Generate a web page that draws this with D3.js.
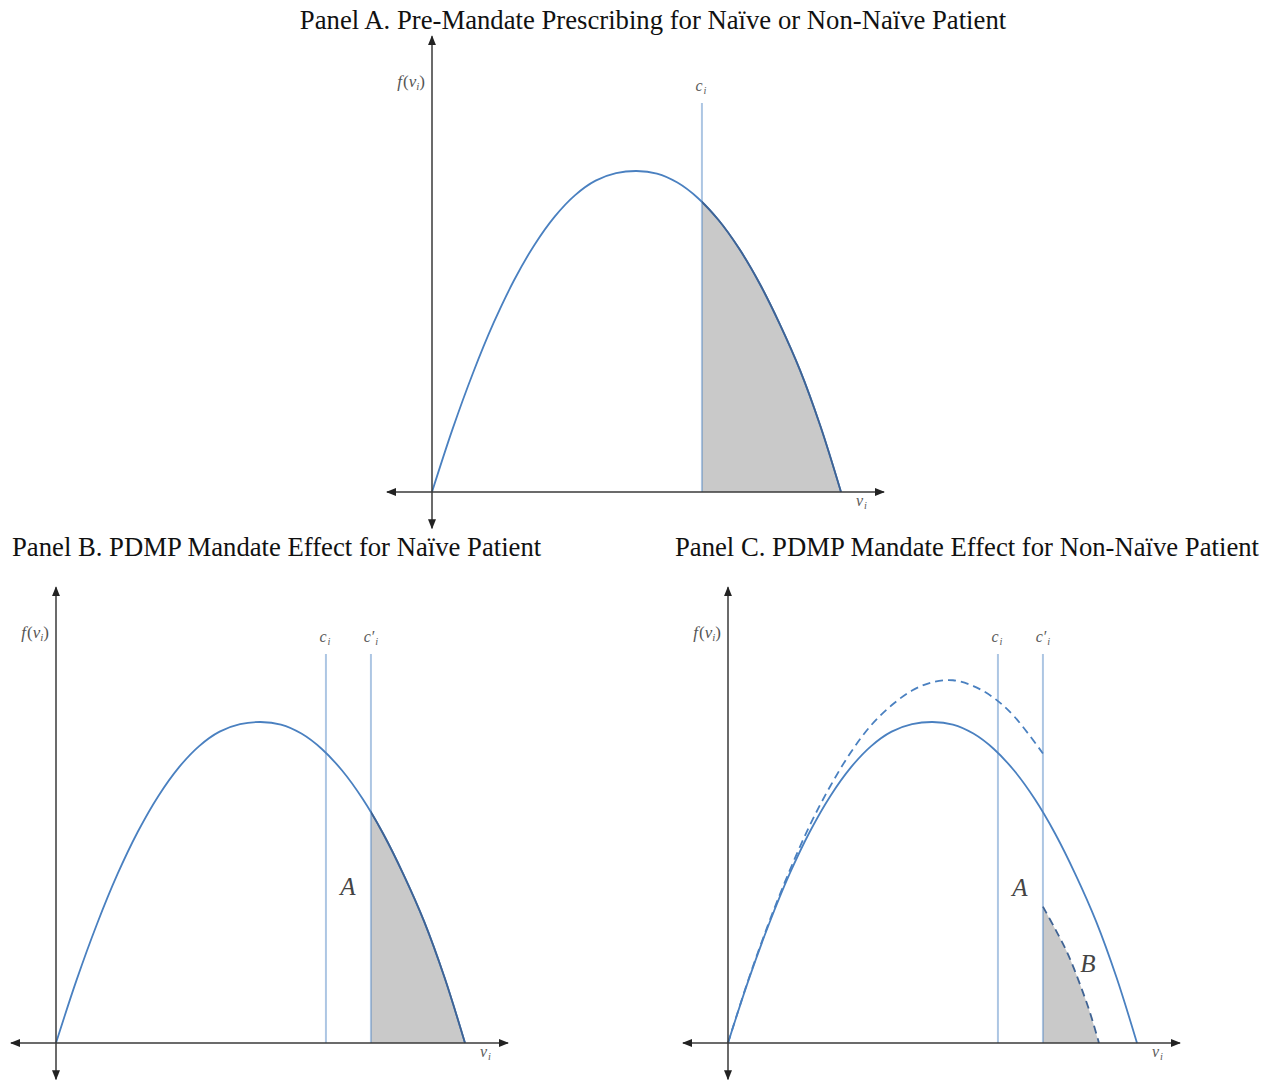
<!DOCTYPE html>
<html><head><meta charset="utf-8">
<script src="https://cdn.jsdelivr.net/npm/d3@7"></script>
<style>body{margin:0;background:#fff}svg{display:block}</style>
</head><body>
<svg id="chart" width="1270" height="1080"></svg>
<script>
// ---------------- data ----------------
const panelTitles = [
  "Panel A. Pre-Mandate Prescribing for Naïve or Non-Naïve Patient",
  "Panel B. PDMP Mandate Effect for Naïve Patient",
  "Panel C. PDMP Mandate Effect for Non-Naïve Patient"
];
// baseline density f(v_i)
const vBase = [0,0.5,1,1.5,2,2.5,3,3.5,4,4.5,5,5.5,6,6.5,7,7.5,8,8.5,9,9.5,10];
const fBase = [0,1.95,3.7,5.25,6.58,7.69,8.58,9.25,9.7,9.93,10,9.92,9.64,9.16,8.48,7.6,6.52,5.24,3.79,2.04,0];
// non-naive patient: shifted-up density (dashed) up to c'_i
const vUpper = [0,0.5,1,1.5,2,2.5,3,3.5,4,4.5,5,5.5,6,6.5,7,7.7];
const fUpper = [0,1.98,3.75,5.35,6.78,8.0,9.05,9.9,10.52,10.98,11.24,11.3,11.12,10.75,10.17,9.02];
// non-naive patient: lower dashed segment beyond c'_i
const vLower = [7.7,8.0,8.3,8.6,8.85,9.07];
const fLower = [4.25,3.55,2.8,1.85,0.95,0];
// thresholds
const cutC = 6.6;
const cutCPrime = 7.7;
// ---------------------------------------

const svg = d3.select("#chart");
const defs = svg.append("defs");
defs.append("marker").attr("id","arr")
  .attr("viewBox","0 0 10 8").attr("refX",9).attr("refY",4)
  .attr("markerUnits","userSpaceOnUse").attr("markerWidth",10).attr("markerHeight",8)
  .attr("orient","auto-start-reverse")
  .append("path").attr("d","M0,0 L10,4 L0,8 Z").attr("fill","#222");

const serif = "Liberation Serif, Times New Roman, serif";
const blue = "#4a80c0";
const darkBlue = "#3f6394";
const vlineColor = "rgba(74,128,192,0.45)";

const baseData = vBase.map((v,i)=>({v, f:fBase[i]}));
const upperData = vUpper.map((v,i)=>({v, f:fUpper[i]}));
const lowerData = vLower.map((v,i)=>({v, f:fLower[i]}));

// titles
svg.append("text").attr("x",653).attr("y",29).attr("text-anchor","middle")
  .attr("font-family",serif).attr("font-size",26.7).attr("fill","#111").text(panelTitles[0]);
svg.append("text").attr("x",12).attr("y",556).attr("text-anchor","start")
  .attr("font-family",serif).attr("font-size",26.7).attr("fill","#111").text(panelTitles[1]);
svg.append("text").attr("x",1259).attr("y",556).attr("text-anchor","end")
  .attr("font-family",serif).attr("font-size",26.7).attr("fill","#111").text(panelTitles[2]);

function subLabel(g, x, y, main, sub, size) {
  const t = g.append("text").attr("x",x).attr("y",y)
    .attr("font-family",serif).attr("font-style","italic")
    .attr("font-size",size).attr("fill","#5a5a5a")
    .attr("text-anchor","middle");
  t.append("tspan").text(main);
  t.append("tspan").attr("dy",3).attr("dx",1).attr("font-size",size*0.65).text(sub);
  return t;
}

function drawPanel(id, ox, oy, cfg) {
  const g = svg.append("g");
  const x = d3.scaleLinear().domain([0,10]).range([ox, ox+409]);
  const y = d3.scaleLinear().domain([0,10]).range([oy, oy-321]);
  const curve = d3.curveCatmullRom.alpha(0.5);
  const line = d3.line().x(d=>x(d.v)).y(d=>y(d.f)).curve(curve);
  const area = d3.area().x(d=>x(d.v)).y0(y(0)).y1(d=>y(d.f)).curve(curve);

  // shaded region
  const clipId = "clip"+id;
  const shadeFrom = cfg.shadeFrom;
  defs.append("clipPath").attr("id",clipId).append("rect")
    .attr("x",x(shadeFrom)).attr("y",y(14)).attr("width",x(10.6)-x(shadeFrom)).attr("height",y(0)-y(14));
  const isBase = cfg.shadeData === "base";
  g.append("path").attr("d",area(isBase ? baseData : lowerData)).attr("fill","#c9c9c9")
    .attr("clip-path", isBase ? `url(#${clipId})` : null);

  // vertical threshold lines
  cfg.lines.forEach(L=>{
    g.append("line").attr("x1",x(L.v)).attr("x2",x(L.v))
      .attr("y1",cfg.lineTop).attr("y2",y(0))
      .attr("stroke",vlineColor).attr("stroke-width",2);
    subLabel(g, x(L.v) + (L.prime ? 0 : -1), cfg.lineTop-12, L.prime ? "c\u2032" : "c", "i", 16);
  });

  // curves
  if (cfg.upper) {
    g.append("path").attr("d",line(upperData)).attr("fill","none")
      .attr("stroke",blue).attr("stroke-width",1.8).attr("stroke-dasharray","8,5");
  }
  g.append("path").attr("d",line(baseData)).attr("fill","none")
    .attr("stroke",blue).attr("stroke-width",1.8);
  if (isBase) {
    g.append("path").attr("d",line(baseData)).attr("fill","none")
      .attr("stroke",darkBlue).attr("stroke-width",1.8).attr("clip-path",`url(#${clipId})`);
  }
  if (cfg.lower) {
    g.append("path").attr("d",line(lowerData)).attr("fill","none")
      .attr("stroke",darkBlue).attr("stroke-width",1.8).attr("stroke-dasharray","8,5");
  }

  // axes with arrows
  g.append("line").attr("x1",x(-1.1)).attr("x2",x(11.05)).attr("y1",y(0)).attr("y2",y(0))
    .attr("stroke","#3a3a3a").attr("stroke-width",1.5)
    .attr("marker-start","url(#arr)").attr("marker-end","url(#arr)");
  g.append("line").attr("x1",x(0)).attr("x2",x(0)).attr("y1",y(-1.13)).attr("y2",y(14.2))
    .attr("stroke","#3a3a3a").attr("stroke-width",1.5)
    .attr("marker-start","url(#arr)").attr("marker-end","url(#arr)");

  // axis labels
  const fl = g.append("text").attr("x",x(0)-7).attr("y",y(12.62))
    .attr("font-family",serif).attr("font-size",17).attr("fill","#555").attr("text-anchor","end");
  fl.append("tspan").attr("font-style","italic").text("f");
  fl.append("tspan").attr("dx",1).text("(");
  fl.append("tspan").attr("font-style","italic").text("v");
  fl.append("tspan").attr("font-style","italic").attr("font-size",11).attr("dy",3).text("i");
  fl.append("tspan").attr("dy",-3).text(")");
  subLabel(g, x(10.5), y(0)+14, "v", "i", 16);

  // region labels
  (cfg.regionLabels||[]).forEach(R=>{
    g.append("text").attr("x",R.x).attr("y",R.y).attr("text-anchor","middle")
      .attr("font-family",serif).attr("font-style","italic").attr("font-size",25)
      .attr("fill","#444").text(R.t);
  });
}

drawPanel("A", 432, 492, {
  shadeFrom: cutC, shadeData: "base", lineTop: 103,
  lines: [{v:cutC}]
});
drawPanel("B", 56, 1043, {
  shadeFrom: cutCPrime, shadeData: "base", lineTop: 654,
  lines: [{v:cutC},{v:cutCPrime, prime:true}],
  regionLabels: [{t:"A", x:348, y:895}]
});
drawPanel("C", 728, 1043, {
  shadeFrom: cutCPrime, shadeData: "lower", lineTop: 654, upper:true, lower:true,
  lines: [{v:cutC},{v:cutCPrime, prime:true}],
  regionLabels: [{t:"A", x:1020, y:896},{t:"B", x:1088, y:972}]
});
</script>
</body></html>
